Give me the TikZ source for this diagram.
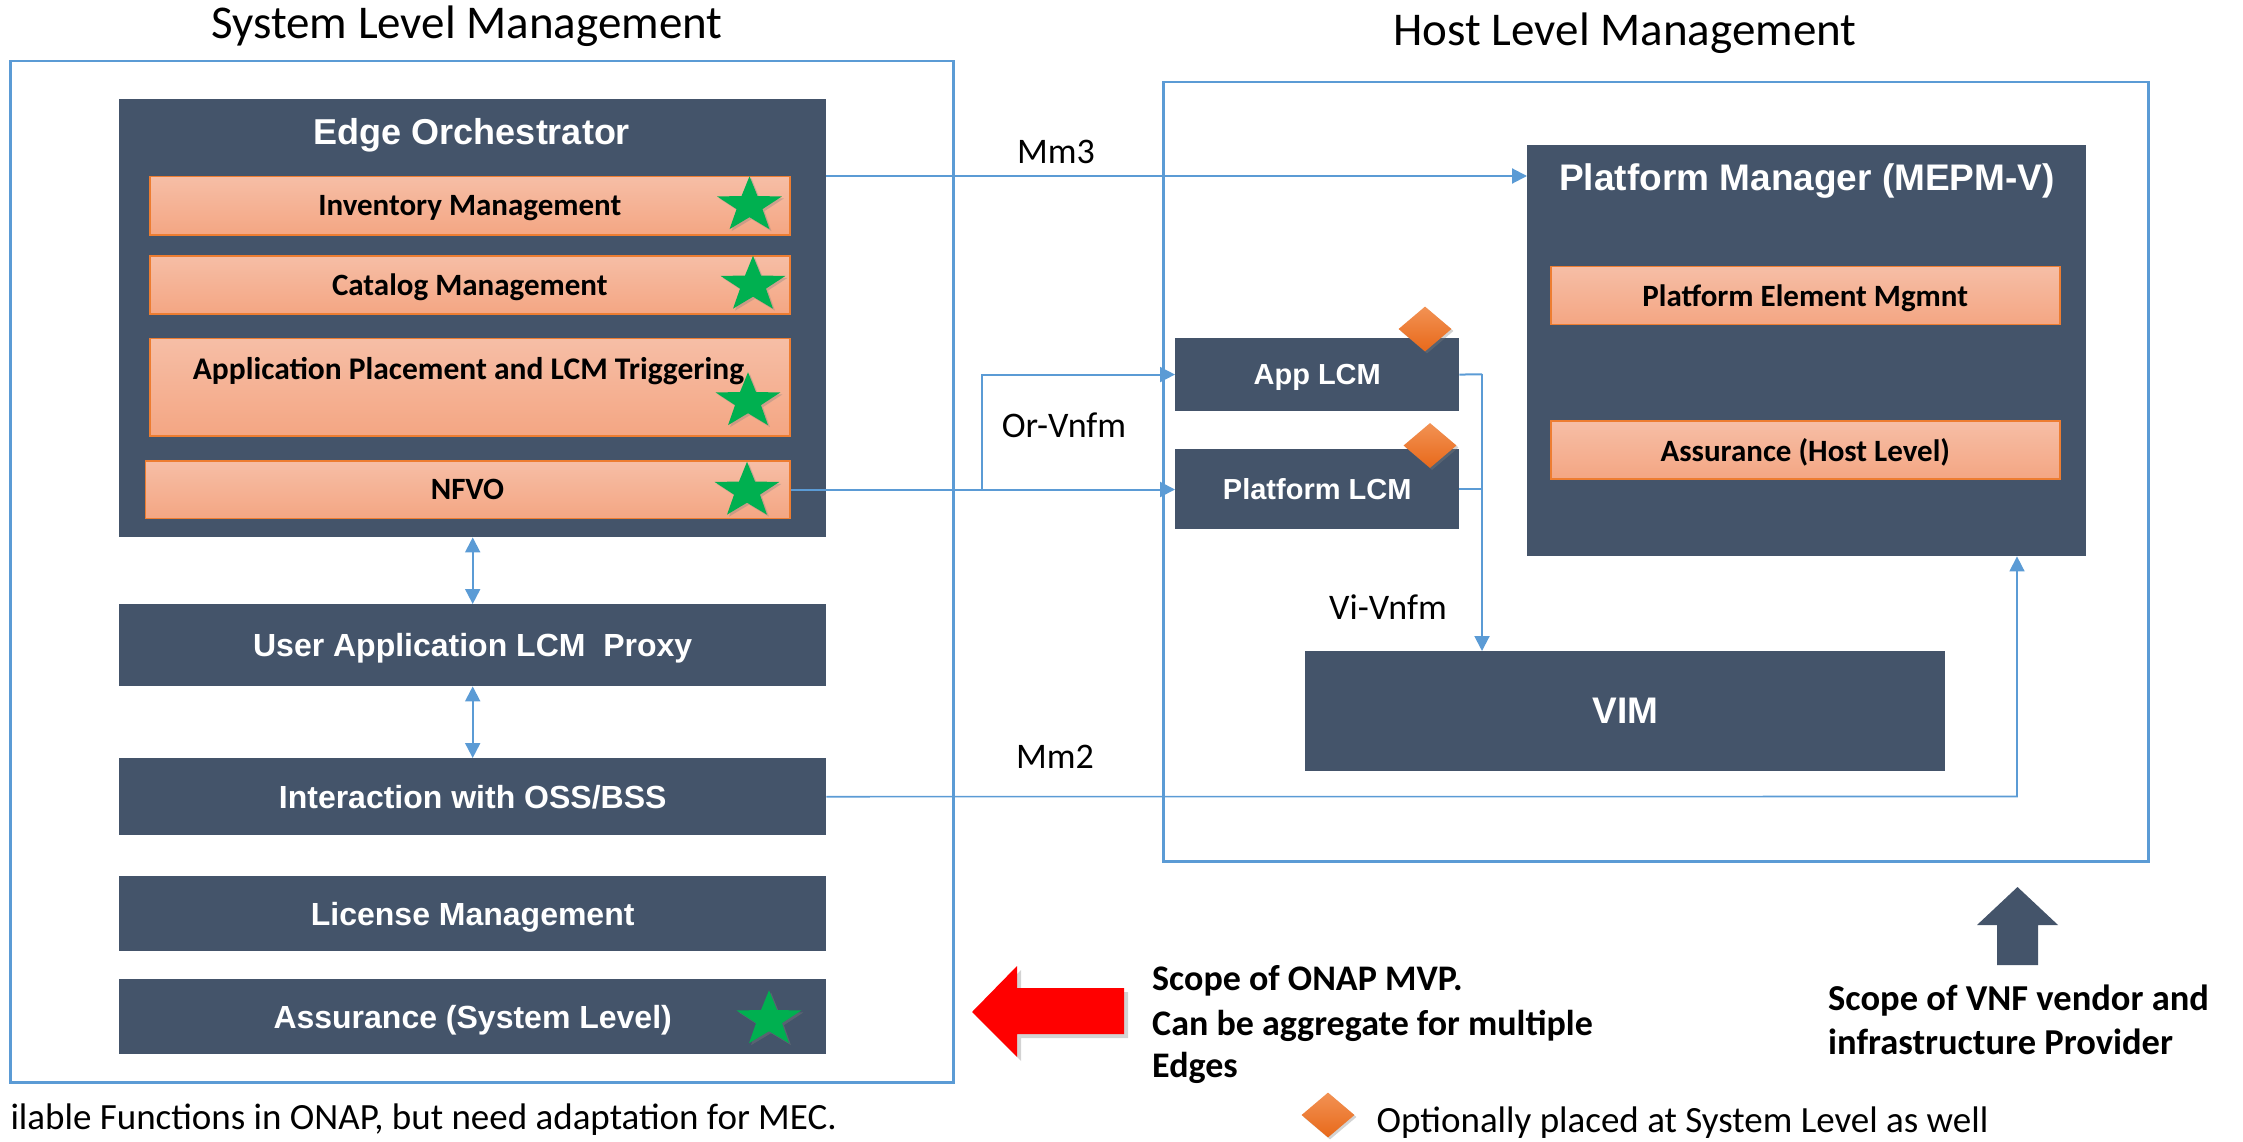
\documentclass[tikz,border=0pt]{standalone}
\usepackage{fontspec}
\setmainfont{Carlito}
\newfontfamily\arialfont{Liberation Sans}
\usetikzlibrary{shapes.geometric,arrows.meta,shadows,calc}
\definecolor{darkbox}{HTML}{44546A}
\definecolor{lineblue}{HTML}{5B9BD5}
\definecolor{orTop}{HTML}{F6BEA6}
\definecolor{orBot}{HTML}{F4A683}
\definecolor{orEdge}{HTML}{ED7D31}
\definecolor{starGreen}{HTML}{00B050}
\definecolor{diaTop}{HTML}{F29254}
\definecolor{diaBot}{HTML}{E8691A}
\newcommand\fs[1]{\fontsize{#1}{#1}\selectfont}
\newcommand\gstar[3]{%
  \begin{scope}[shift={(#2,#3)}]
    \node[gstarshape, yscale=0.86, transform shape] (#1) at (0,0) {};
  \end{scope}}
\begin{document}
\begin{tikzpicture}[x=1pt,y=-1pt,
  frame/.style={draw=lineblue, line width=2.5pt, fill=none, inner sep=0pt, anchor=north west},
  dbox/.style={fill=darkbox, inner sep=0pt, anchor=north west},
  obox/.style={top color=orTop, bottom color=orBot, draw=orEdge, line width=1.5pt, inner sep=0pt, anchor=north west},
  wtext/.style={text=white, font=\arialfont\bfseries\fs{#1}, text depth=0pt},
  btext/.style={text=black, font=\bfseries\fs{#1}, text depth=0pt},
  lbl/.style={font=\fs{36}, anchor=base, inner sep=0pt},
  note/.style={font=\bfseries\fs{36}, anchor=base west, inner sep=0pt},
  conn/.style={draw=lineblue, line width=2pt},
  arr/.style={-{Triangle[length=15pt,width=15pt]}},
  arrtwo/.style={{Triangle[length=15pt,width=15pt]}-{Triangle[length=15pt,width=15pt]}},
  gstarshape/.style={star, star points=5, star point ratio=2.5, fill=starGreen, inner sep=0pt, minimum size=68pt,
     drop shadow={shadow xshift=2pt, shadow yshift=-2pt, opacity=0.35}},
  dia/.style={diamond, top color=diaTop, bottom color=diaBot, inner sep=0pt, minimum width=53pt, minimum height=45pt,
     drop shadow={shadow xshift=2pt, shadow yshift=-2pt, opacity=0.35}}
]
\useasboundingbox (0,0) rectangle (2243,1142);

% frames and titles
\node[frame, minimum width=943pt, minimum height=1021pt] (lbox) at (9,60) {};
\node[frame, minimum width=985pt, minimum height=779pt] (rbox) at (1162,81) {};
\node[font=\fs{47}, anchor=base, inner sep=0pt] (slm) at (467,39) {System Level Management};
\node[font=\fs{47}, anchor=base, inner sep=0pt] (hlm) at (1625,46) {Host Level Management};

% Edge orchestrator
\node[dbox, minimum width=707pt, minimum height=438pt] (eo) at (119,99) {};
\node[wtext=36, anchor=base, inner sep=0pt] (eot) at (472,145) {Edge Orchestrator};
\node[obox, minimum width=640pt, minimum height=58pt, btext=31] (inv) at (149,176) {Inventory Management};
\node[obox, minimum width=640pt, minimum height=58pt, btext=31] (cat) at (149,255) {Catalog Management};
\node[obox, minimum width=640pt, minimum height=97.5pt] (app) at (149,337.5) {};
\node[btext=31.5, anchor=base, inner sep=0pt] (appt) at (468.5,379) {Application Placement and LCM Triggering};
\node[obox, minimum width=644.5pt, minimum height=57.5pt, btext=31] (nfvo) at (144.5,460) {NFVO};
\gstar{s1}{749.5}{205.5}
\gstar{s2}{753}{285}
\gstar{s3}{748}{401.5}
\gstar{s4}{747}{491}

% left column boxes
\node[dbox, minimum width=707pt, minimum height=82pt, wtext=32] (uap) at (119,604) {User Application LCM\ \ Proxy};
\node[dbox, minimum width=707pt, minimum height=77pt, wtext=32] (oss) at (119,758) {Interaction with OSS/BSS};
\node[dbox, minimum width=707pt, minimum height=75pt, wtext=32] (lic) at (119,876) {License Management};
\node[dbox, minimum width=707pt, minimum height=75pt, wtext=32] (asl) at (119,979) {Assurance (System Level)};
\gstar{s5}{769}{1019.5}

% right side
\node[dbox, minimum width=559pt, minimum height=411pt] (pm) at (1527,145) {};
\node[wtext=37, anchor=base, inner sep=0pt] (pmt) at (1807,191) {Platform Manager (MEPM-V)};
\node[obox, minimum width=509pt, minimum height=58pt, btext=31] (pem) at (1550,265.7) {Platform Element Mgmnt};
\node[obox, minimum width=509pt, minimum height=58pt, btext=31] (ahl) at (1550,420) {Assurance (Host Level)};
\node[dbox, minimum width=284pt, minimum height=72.7pt, wtext=29] (alcm) at (1175,338) {App LCM};
\node[dbox, minimum width=284pt, minimum height=79.6pt, wtext=29] (plcm) at (1175,449) {Platform LCM};
\node[dbox, minimum width=640pt, minimum height=120pt, wtext=37] (vim) at (1305,651) {VIM};
\node[dia] (d1) at (1425,329) {};
\node[dia] (d2) at (1430,445.5) {};

% connectors
\draw[conn, arr] (inv.north -| eo.east) -- (inv.north -| pm.west);
\coordinate (br) at (982,488.75);
\draw[conn, arr] (nfvo.east) -- (nfvo.east -| plcm.west);
\draw[conn, arr] (br) |- (alcm.west);
\coordinate (vv) at (1482,374.35);
\draw[conn] (alcm.east) -- (vv);
\draw[conn] (plcm.east) -- (plcm.east -| vv);
\draw[conn, arr] (vv) -- (vv |- vim.north);
\coordinate (mm2) at (2017,796.5);
\draw[conn, line width=1.6pt, arr] (oss.east) -- (mm2) -- (mm2 |- pm.south);
\draw[conn, arrtwo] (uap.north |- eo.south) -- (uap.north);
\draw[conn, arrtwo] (uap.south) -- (oss.north);

% connector labels
\node[lbl] (lmm3) at (1056,164) {Mm3};
\node[lbl] (lor) at (1064,437.5) {Or-Vnfm};
\node[lbl] (lvi) at (1388,619) {Vi-Vnfm};
\node[lbl] (lmm2) at (1055,768) {Mm2};

% block arrows
\fill[red, drop shadow={shadow xshift=4pt, shadow yshift=-4pt, opacity=0.35}]
  (972,1012) -- (1017,966) -- (1017,988) -- (1124,988) -- (1124,1034) -- (1017,1034) -- (1017,1057) -- cycle;
\fill[darkbox] (2017.5,887) -- (2058,925) -- (2038,925) -- (2038,965) -- (1997,965) -- (1997,925) -- (1977,925) -- cycle;

% notes
\node[note] (on1) at (1152,990) {Scope of ONAP MVP.};
\node[note] (on2) at (1152,1035) {Can be aggregate for multiple};
\node[note] (on3) at (1152,1077) {Edges};
\node[note, font=\bfseries\fs{36.5}] (vn1) at (1828,1010) {Scope of VNF vendor and};
\node[note, font=\bfseries\fs{36.5}] (vn2) at (1828,1054) {infrastructure Provider};
\node[dia] (d3) at (1328,1115) {};
\node[font=\fs{37}, anchor=base west, inner sep=0pt] (opt) at (1376.5,1132) {Optionally placed at System Level as well};
\node[font=\fs{37}, anchor=base east, inner sep=0pt] (avail) at (837,1129) {ilable Functions in ONAP, but need adaptation for MEC.};
\end{tikzpicture}
\end{document}
